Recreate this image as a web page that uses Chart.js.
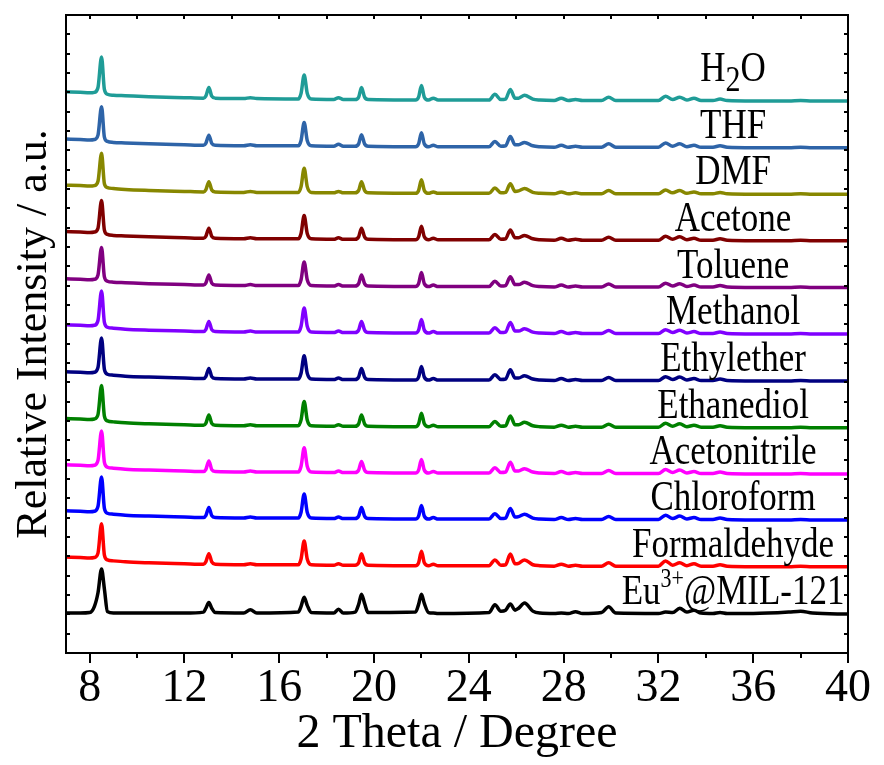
<!DOCTYPE html>
<html><head><meta charset="utf-8">
<script src="https://cdn.jsdelivr.net/npm/chart.js@4/dist/chart.umd.min.js"></script>
<style>html,body{margin:0;padding:0;background:#fff}</style>
</head><body>
<canvas id="c" width="884" height="765"></canvas>
<script>
// 2θ sample positions (degrees) shared by every pattern
const twoTheta = [7.0, 7.6, 8.0, 8.2, 8.35, 8.5, 8.62, 8.75, 9.0, 9.5, 10.5, 12.0,
  12.8, 12.9, 13.03, 13.15, 13.3,
  14.5, 14.78, 15.05,
  16.8, 16.92, 17.05, 17.18, 17.35,
  18.3, 18.5, 18.7,
  19.2, 19.35, 19.47, 19.6, 19.75,
  21.75, 21.88, 22.0, 22.12, 22.3, 22.5, 22.7,
  24.85, 25.1, 25.35, 25.55, 25.75, 25.95, 26.1, 26.35, 26.7, 27.0,
  27.6, 27.9, 28.2, 28.5, 28.8,
  29.6, 29.9, 30.2,
  32.0, 32.3, 32.6, 32.9, 33.2, 33.5, 33.8,
  34.3, 34.6, 34.9,
  36.0, 37.5, 38.0, 38.5, 40.0];

// intensities above each pattern's own baseline (a.u.)
const euMIL121 = [1, 1, 1.5, 8, 22, 46.5, 26, 2.5, 1, 1, 1, 1,
  2, 6, 12, 6, 1.5,  1, 4.5, 1,  2, 8, 17.5, 9, 1.5,  1, 5, 1,
  2, 10, 20.5, 11, 1.5,  2, 10, 20.5, 11, 1.5, 1, 0.5,
  1.5, 9.5, 3, 4, 10.5, 4, 6, 11.5, 3, 1,  0.5, 1, 0.5, 2.5, 0.5,
  1.5, 7.5, 1,  0.5, 2, 1.5, 6, 2, 4, 1,  0.5, 1.5, 0.5,  0.5, 2, 3, 1, 0];
const formaldehyde = [10, 9.5, 9, 9.5, 14, 44.5, 12, 7, 6, 5, 4, 3,
  2.5, 5, 13.5, 5, 2.5,  2, 3, 2,  2, 8, 26.5, 8, 2,  1.5, 3, 1.5,
  1.5, 4, 13.5, 4, 1.5,  1, 4, 16, 4, 1, 2.5, 1,
  1, 7, 1.5, 2, 13, 3, 3.5, 7, 2, 1,  0.5, 2.5, 0.5, 1.5, 0.5,
  0.5, 4, 0.5,  0.5, 6, 1.5, 4, 1, 3, 0.5,  0.5, 2, 0.5,  0, 0, 0.5, 0, 0];
const chloroform = [9.5, 9, 8.5, 9, 14, 44.5, 12, 7, 6, 5, 4, 3,
  2.5, 4.5, 13, 4.5, 2.5,  2, 3, 2,  2, 8, 27, 8, 2,  1.5, 3, 1.5,
  1.5, 4, 13, 4, 1.5,  1, 4, 15, 4, 1, 2.5, 1,
  1, 6.5, 1.5, 2, 12, 3, 3.5, 6, 2, 1,  0.5, 2.5, 0.5, 1.5, 0.5,
  0.5, 3.5, 0.5,  0.5, 5, 1.5, 4, 1, 2.5, 0.5,  0.5, 2, 0.5,  0, 0, 0.5, 0, 0];
const acetonitrile = [9.5, 9, 8.5, 9, 14, 44.5, 12, 7, 6, 5, 4, 3,
  2.5, 4.5, 13.5, 4.5, 2.5,  2, 3, 2,  2, 8, 27, 8, 2,  1.5, 3, 1.5,
  1.5, 4, 13, 4, 1.5,  1, 4, 15, 4, 1, 2.5, 1,
  1, 6.5, 1.5, 2, 12, 3, 3, 5.5, 2, 1,  0.5, 2.5, 0.5, 1.5, 0.5,
  0.5, 3.5, 0.5,  0.5, 4.5, 1.5, 4, 1, 2.5, 0.5,  0.5, 2, 0.5,  0, 0, 0.5, 0, 0];
const ethanediol = [9.5, 9, 8.5, 9, 13.5, 43.5, 12, 7, 6, 5, 4, 3,
  2.5, 4.5, 13, 4.5, 2.5,  2, 3, 2,  2, 8, 27, 8, 2,  1.5, 3, 1.5,
  1.5, 4, 13, 4, 1.5,  1, 4, 15, 4, 1, 2.5, 1,
  1, 6.5, 1.5, 2, 12, 3, 3, 5.5, 2, 1,  0.5, 2.5, 0.5, 1.5, 0.5,
  0.5, 3.5, 0.5,  0.5, 4.5, 1.5, 4, 1, 2.5, 0.5,  0.5, 2, 0.5,  0, 0, 0.5, 0, 0];
const ethylether = [9.5, 9, 8.5, 9, 14, 44.5, 12, 7, 6, 5, 4, 3,
  2.5, 4.5, 13, 4.5, 2.5,  2, 3, 2,  2, 8, 26, 8, 2,  1.5, 3, 1.5,
  1.5, 4, 13, 4, 1.5,  1, 4, 15, 4, 1, 2.5, 1,
  1, 6.5, 1.5, 2, 11.5, 3, 3, 5.5, 2, 1,  0.5, 2.5, 0.5, 1.5, 0.5,
  0.5, 3.5, 0.5,  0.5, 4.5, 1.5, 4, 1, 2.5, 0.5,  0.5, 2, 0.5,  0, 0, 0.5, 0, 0];
const methanol = [9.5, 9, 8.5, 9, 14, 44.5, 12, 7, 6, 5, 4, 3,
  2.5, 4.5, 13, 4.5, 2.5,  2, 3, 2,  2, 8, 27, 8, 2,  1.5, 3, 1.5,
  1.5, 4, 13, 4, 1.5,  1, 4, 15, 4, 1, 2.5, 1,
  1, 6.5, 1.5, 2, 12, 3, 3, 5.5, 2, 1,  0.5, 2.5, 0.5, 1.5, 0.5,
  0.5, 3.5, 0.5,  0.5, 4.5, 1.5, 4, 1, 2.5, 0.5,  0.5, 2, 0.5,  0, 0, 0.5, 0, 0];
const toluene = [9, 8.5, 8, 8.5, 13, 41.5, 11, 6.5, 5.5, 5, 4, 3,
  2.5, 4.5, 13, 4.5, 2.5,  2, 3, 2,  2, 8, 26.5, 8, 2,  1.5, 3, 1.5,
  1.5, 4, 13, 4, 1.5,  1, 4, 15.5, 4, 1, 2.5, 1,
  1, 6.5, 1.5, 2, 11, 3, 3, 5.5, 2, 1,  0.5, 2.5, 0.5, 1.5, 0.5,
  0.5, 3.5, 0.5,  0.5, 4.5, 1.5, 4, 1, 2.5, 0.5,  0.5, 2, 0.5,  0, 0, 0.5, 0, 0];
const acetone = [9.5, 9, 8.5, 9, 13, 41.5, 11, 6.5, 5.5, 5, 4, 3,
  2.5, 4.5, 13, 4.5, 2.5,  2, 3, 2,  2, 7.5, 26, 7.5, 2,  1.5, 3, 1.5,
  1.5, 4, 13, 4, 1.5,  1, 4, 15, 4, 1, 2.5, 1,
  1, 6.5, 1.5, 2, 11, 3, 3, 5.5, 2, 1,  0.5, 2.5, 0.5, 1.5, 0.5,
  0.5, 3.5, 0.5,  0.5, 4.5, 1.5, 4, 1, 2.5, 0.5,  0.5, 2, 0.5,  0, 0, 0.5, 0, 0];
const dmf = [9.5, 9, 8.5, 9, 13.5, 42.5, 11, 7, 6, 5, 4, 3,
  2.5, 4.5, 13, 4.5, 2.5,  2, 3, 2,  2, 8, 27, 8, 2,  1.5, 3, 1.5,
  1.5, 4, 13, 4, 1.5,  1, 4, 15, 4, 1, 2.5, 1,
  1, 6.5, 1.5, 2, 11, 3, 3.5, 6, 2, 1,  0.5, 2.5, 0.5, 1.5, 0.5,
  0.5, 4, 0.5,  0.5, 4.5, 1.5, 4, 1, 2.5, 0.5,  0.5, 2, 0.5,  0, 0, 0.5, 0, 0];
const thf = [9, 8.5, 8, 8.5, 13, 42.5, 11, 6.5, 5.5, 5, 4, 3,
  2.5, 4.5, 13, 4.5, 2.5,  2, 3, 2,  2, 7.5, 26, 7.5, 2,  1.5, 3.5, 1.5,
  1.5, 4, 13.5, 4, 1.5,  1, 4, 15.5, 4, 1, 2.5, 1,
  1, 6.5, 1.5, 2, 11.5, 3, 3, 5.5, 2, 1,  0.5, 2.5, 0.5, 1.5, 0.5,
  0.5, 4, 0.5,  0.5, 5, 1.5, 4, 1, 2.5, 0.5,  0.5, 2, 0.5,  0, 0, 0.5, 0, 0];
const h2o = [9.5, 9, 8.5, 9, 14, 45.5, 12, 7, 6, 5.5, 4.5, 3.5,
  3, 5, 14, 5, 3,  2.5, 3.5, 2.5,  2, 8, 27, 8, 2,  1.5, 3.5, 1.5,
  1.5, 4, 14, 4, 1.5,  1, 4, 16, 4, 1, 3, 1,
  1, 7, 1.5, 2, 12, 3, 3, 6, 2, 1,  0.5, 3, 0.5, 1.5, 0.5,
  0.5, 4, 0.5,  0.5, 5, 1.5, 4, 1, 3, 0.5,  0.5, 2, 0.5,  0, 0, 0.5, 0, 0];

const seriesNames = ['Eu3+@MIL-121', 'Formaldehyde', 'Chloroform', 'Acetonitrile', 'Ethanediol',
  'Ethylether', 'Methanol', 'Toluene', 'Acetone', 'DMF', 'THF', 'H2O'];
const seriesValues = [euMIL121, formaldehyde, chloroform, acetonitrile, ethanediol,
  ethylether, methanol, toluene, acetone, dmf, thf, h2o];
// vertical stacking offsets (a.u.)
const seriesOffsets = [40.3, 89.3, 137.6, 185.2, 233.1, 281.4, 330.0, 378.1, 426.5, 474.5, 522.7, 571.0];
const seriesColors = ['#000000', '#ff0000', '#0000ff', '#ff00ff', '#008000', '#000080',
  '#8000ff', '#800080', '#800000', '#878700', '#2e64a8', '#1f9c97'];
// label pieces: [text, kind] with kind 0 normal, 1 superscript, -1 subscript
const seriesLabelParts = [
  [['Eu', 0], ['3+', 1], ['@MIL-121', 0]],
  [['Formaldehyde', 0]], [['Chloroform', 0]], [['Acetonitrile', 0]], [['Ethanediol', 0]],
  [['Ethylether', 0]], [['Methanol', 0]], [['Toluene', 0]], [['Acetone', 0]],
  [['DMF', 0]], [['THF', 0]], [['H', 0], ['2', -1], ['O', 0]]
];
const labelAt2Theta = 35.15;

const xMin = 7, xMax = 40;
const xMajorTicks = [8, 12, 16, 20, 24, 28, 32, 36, 40];
const xMinorTicks = [10, 14, 18, 22, 26, 30, 34, 38];
const yMin = 0, yMax = 660, yTickStep = 20;

const SERIF = '"Liberation Serif", "Times New Roman", serif';

const framePlugin = {
  id: 'frame',
  afterDraw(chart) {
    const { ctx, chartArea: a, scales: { x, y } } = chart;
    ctx.save();
    ctx.strokeStyle = '#000';
    ctx.lineWidth = 2;
    ctx.strokeRect(a.left, a.top, a.right - a.left, a.bottom - a.top);
    ctx.beginPath();
    xMajorTicks.forEach(v => {
      const p = Math.round(x.getPixelForValue(v));
      ctx.moveTo(p, a.bottom); ctx.lineTo(p, a.bottom + 10);
      ctx.moveTo(p, a.top); ctx.lineTo(p, a.top + 4);
    });
    xMinorTicks.forEach(v => {
      const p = Math.round(x.getPixelForValue(v));
      ctx.moveTo(p, a.bottom); ctx.lineTo(p, a.bottom + 5);
      ctx.moveTo(p, a.top); ctx.lineTo(p, a.top + 4);
    });
    for (let v = yMin + yTickStep; v < yMax; v += yTickStep) {
      const p = Math.round(y.getPixelForValue(v));
      ctx.moveTo(a.left, p); ctx.lineTo(a.left + 4, p);
      ctx.moveTo(a.right, p); ctx.lineTo(a.right - 4, p);
    }
    ctx.stroke();

    // series labels (slightly tall serif, as in the reference)
    ctx.fillStyle = '#000';
    ctx.textBaseline = 'alphabetic';
    ctx.textAlign = 'left';
    const main = 35, small = 22, sub = 30, sy = 1.2;
    const fontFor = k => (k === 0 ? main : (k === 1 ? small : sub)) + 'px ' + SERIF;
    seriesLabelParts.forEach((parts, i) => {
      let w = 0;
      parts.forEach(([t, k]) => { ctx.font = fontFor(k); w += ctx.measureText(t).width; });
      const hasSub = parts.some(p => p[1] === -1);
      const cx = x.getPixelForValue(labelAt2Theta);
      const by = y.getPixelForValue(seriesOffsets[i]) - 10 - (hasSub ? 8 * sy : 0);
      ctx.save();
      ctx.translate(cx - w / 2, by);
      ctx.scale(1, sy);
      let px = 0;
      parts.forEach(([t, k]) => {
        ctx.font = fontFor(k);
        const dy = k === 1 ? -14 : (k === -1 ? 8 : 0);
        ctx.fillText(t, px, dy);
        px += ctx.measureText(t).width;
      });
      ctx.restore();
    });
    ctx.restore();
  }
};

new Chart(document.getElementById('c'), {
  type: 'line',
  data: {
    datasets: seriesNames.map((n, i) => ({
      label: n,
      data: twoTheta.map((t, k) => ({ x: t, y: seriesOffsets[i] + seriesValues[i][k] })),
      borderColor: seriesColors[i],
      backgroundColor: seriesColors[i],
      borderWidth: 3.5,
      pointRadius: 0,
      cubicInterpolationMode: 'monotone',
      fill: false
    }))
  },
  options: {
    responsive: false,
    animation: false,
    devicePixelRatio: 1,
    layout: { padding: { top: 15, right: 31, left: 0, bottom: 0 } },
    plugins: { legend: { display: false }, tooltip: { enabled: false } },
    scales: {
      x: {
        type: 'linear', min: xMin, max: xMax,
        afterBuildTicks: s => { s.ticks = xMajorTicks.map(v => ({ value: v })); },
        afterFit: s => { s.height = 112; },
        grid: { display: false, drawTicks: false },
        border: { display: false },
        ticks: { color: '#000', padding: 13, maxRotation: 0, autoSkip: false,
          font: { family: SERIF, size: 46, lineHeight: 1 } },
        title: { display: true, text: '2 Theta / Degree', color: '#000',
          font: { family: SERIF, size: 48, lineHeight: 1 }, padding: { top: 0, bottom: 7 } }
      },
      y: {
        type: 'linear', min: yMin, max: yMax,
        afterFit: s => { s.width = 66; },
        grid: { display: false, drawTicks: false },
        border: { display: false },
        ticks: { display: false },
        title: { display: true, text: 'Relative Intensity / a.u.', color: '#000',
          font: { family: SERIF, size: 44, lineHeight: 1 }, padding: { top: 12, bottom: 0 } }
      }
    }
  },
  plugins: [framePlugin]
});
</script>
</body></html>
